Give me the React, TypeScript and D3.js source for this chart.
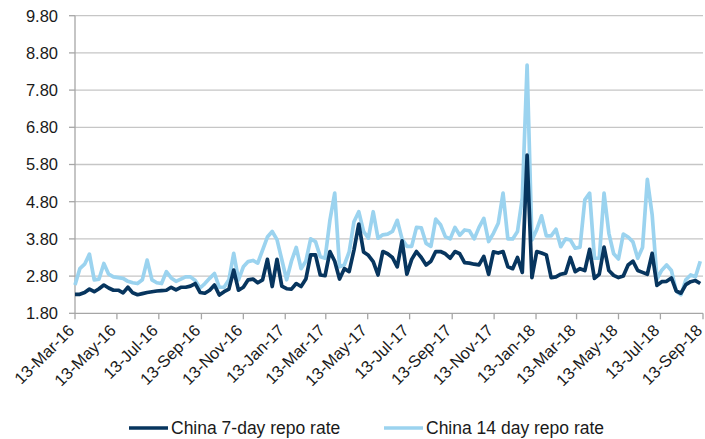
import React from "react";
import * as d3 from "d3";

// Weekly observations, starting 13 March 2016 (percent)
const startDate = "13-Mar-16";
const endDate = "13-Sep-18";

const repo7 = [
  2.31, 2.31, 2.36, 2.45, 2.38, 2.46, 2.56, 2.48, 2.42, 2.42,
  2.35, 2.5, 2.35, 2.3, 2.33, 2.36, 2.38, 2.4, 2.41, 2.42,
  2.5, 2.43, 2.5, 2.5, 2.53, 2.6, 2.36, 2.34, 2.42, 2.56,
  2.29, 2.38, 2.45, 2.96, 2.42, 2.5, 2.7, 2.72, 2.62, 2.7,
  3.25, 2.52, 3.25, 2.53, 2.46, 2.45, 2.6, 2.52, 2.72, 3.37,
  3.37, 2.83, 2.81, 3.46, 3.2, 2.72, 3.0, 2.92, 3.5, 4.2,
  3.45, 3.36, 3.19, 2.83, 3.46, 3.4, 3.3, 3.05, 3.75, 2.85,
  3.25, 3.46, 3.3, 3.1, 3.2, 3.46, 3.46, 3.4, 3.28, 3.46,
  3.4, 3.16, 3.15, 3.12, 3.1, 3.33, 2.85, 3.45, 3.42, 3.46,
  3.05, 3.0, 3.3, 2.9, 6.05, 2.76, 3.46, 3.42, 3.37, 2.76,
  2.78, 2.85, 2.88, 3.3, 2.92, 3.0, 2.95, 3.52, 2.74, 2.85,
  3.58, 2.95, 2.82, 2.76, 2.8, 3.1, 3.2, 2.95, 2.9, 2.85,
  3.41, 2.55, 2.65, 2.66, 2.75, 2.4, 2.34, 2.57, 2.65, 2.68,
  2.6,
];

const repo14 = [
  2.56, 3.0, 3.12, 3.39, 2.7, 2.72, 3.14, 2.85, 2.78, 2.76,
  2.74, 2.66, 2.62, 2.6, 2.7, 3.23, 2.7, 2.62, 2.6, 2.92,
  2.75, 2.66, 2.72, 2.78, 2.78, 2.68, 2.48, 2.6, 2.74, 2.87,
  2.5, 2.5, 2.7, 3.41, 2.7, 3.05, 3.19, 3.22, 3.15, 3.5,
  3.85, 4.0, 3.78, 3.24, 2.7, 3.2, 3.57, 3.0, 3.2, 3.8,
  3.73, 3.32, 3.28, 4.3, 5.03, 3.05, 3.1, 3.45, 4.26, 4.53,
  4.0, 3.82, 4.53, 3.82, 3.91, 3.93, 4.0, 4.3, 3.8, 3.6,
  3.6, 4.11, 4.1, 3.68, 3.6, 4.33, 4.18, 3.86, 3.8, 4.11,
  3.9, 4.04, 4.02, 3.8, 4.11, 4.35, 3.73, 3.95, 4.22, 5.03,
  3.8, 3.8, 4.0, 4.9, 8.47, 3.77, 4.05, 4.42, 3.88, 3.88,
  4.06, 3.59, 3.8, 3.77, 3.55, 3.58, 4.85, 5.03, 3.28, 3.28,
  5.03, 3.95, 3.4, 3.26, 3.93, 3.85, 3.72, 3.28, 3.57, 5.4,
  4.45, 2.72, 2.96, 3.1, 2.95, 2.4, 2.3, 2.7, 2.83, 2.78,
  3.2,
];

const yTicks = [1.8, 2.8, 3.8, 4.8, 5.8, 6.8, 7.8, 8.8, 9.8];

const xTickLabels = [
  "13-Mar-16", "13-May-16", "13-Jul-16", "13-Sep-16", "13-Nov-16",
  "13-Jan-17", "13-Mar-17", "13-May-17", "13-Jul-17", "13-Sep-17",
  "13-Nov-17", "13-Jan-18", "13-Mar-18", "13-May-18", "13-Jul-18",
  "13-Sep-18",
];

const seriesNames = ["China 7-day repo rate", "China 14 day repo rate"];

const W = 705;
const H = 439;
const left = 75;
const right = 703;
const top = 15.7;
const bottom = 313.3;

const DARK = "#07355e";
const LIGHT = "#9bd3ef";
const GRID = "#c6c6c6";
const AXIS = "#a6a6a6";
const FONT = "'Liberation Sans', Arial, sans-serif";

const parse = d3.timeParse("%d-%b-%y");

export default function App() {
  const t0 = parse(startDate) as Date;
  const t1 = parse(endDate) as Date;
  const x = d3.scaleTime().domain([t0, t1]).range([left, right]);
  const y = d3.scaleLinear().domain([1.8, 9.8]).range([bottom, top]);

  const dates = repo7.map((_, i) => d3.timeDay.offset(t0, 7 * i));
  const line = d3
    .line<number>()
    .x((_, i) => x(dates[i]))
    .y((v) => y(v))
    .curve(d3.curveLinear);

  const tickDates = xTickLabels.map((s) => parse(s) as Date);

  return (
    <svg
      width={W}
      height={H}
      style={{ position: "absolute", left: 0, top: 0, background: "#fff" }}
      fontFamily={FONT}
    >
      {/* horizontal grid */}
      {yTicks.slice(1).map((v) => (
        <line key={v} x1={left} x2={right} y1={y(v)} y2={y(v)} stroke={GRID} strokeWidth={1.3} />
      ))}
      {/* y axis and its ticks */}
      <line x1={left} x2={left} y1={top} y2={bottom} stroke={AXIS} strokeWidth={1.3} />
      {yTicks.map((v) => (
        <g key={"yt" + v}>
          <line x1={left - 6} x2={left} y1={y(v)} y2={y(v)} stroke={AXIS} strokeWidth={1.3} />
          <text x={58} y={y(v)} dy="0.36em" textAnchor="end" fontSize={16.5} fill="#1a1a1a">
            {v.toFixed(2)}
          </text>
        </g>
      ))}
      {/* x axis */}
      <line x1={left} x2={right} y1={bottom} y2={bottom} stroke={AXIS} strokeWidth={1.3} />
      {tickDates.map((d, i) => (
        <g key={"xt" + i}>
          <line x1={x(d)} x2={x(d)} y1={bottom} y2={bottom + 6} stroke={AXIS} strokeWidth={1.3} />
          <text
            transform={`translate(${x(d) - 8},${bottom + 10}) rotate(-45)`}
            textAnchor="end"
            dy="0.7em"
            fontSize={16.5}
            fill="#1a1a1a"
          >
            {xTickLabels[i]}
          </text>
        </g>
      ))}
      {/* series */}
      <path d={line(repo14) ?? ""} fill="none" stroke={LIGHT} strokeWidth={3.7} strokeLinejoin="round" />
      <path d={line(repo7) ?? ""} fill="none" stroke={DARK} strokeWidth={3.7} strokeLinejoin="round" />
      {/* legend */}
      <line x1={129} x2={168} y1={428} y2={428} stroke={DARK} strokeWidth={3.7} />
      <text x={171} y={434} fontSize={17.5} fill="#1a1a1a">{seriesNames[0]}</text>
      <line x1={384} x2={423} y1={428} y2={428} stroke={LIGHT} strokeWidth={3.7} />
      <text x={426} y={434} fontSize={17.5} fill="#1a1a1a">{seriesNames[1]}</text>
    </svg>
  );
}
